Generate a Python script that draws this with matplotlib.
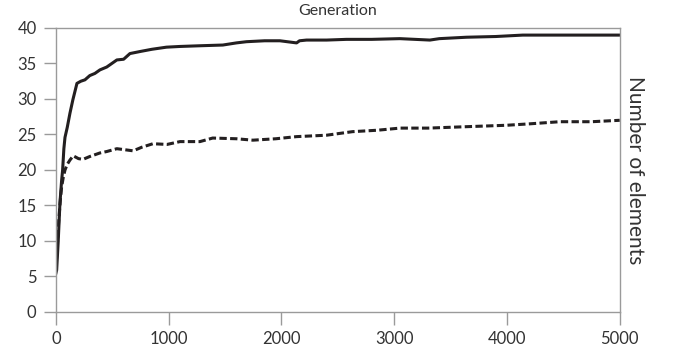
import matplotlib.pyplot as plt

# values
gen_solid = [0, 6, 20, 35, 50, 59, 70, 80, 100, 124, 150, 186, 220, 257, 300, 345, 390, 450,
             540, 600, 656, 750, 850, 980, 1100, 1280, 1480, 1600, 1690, 1850, 1986, 2134,
             2160, 2222, 2400, 2577, 2800, 3050, 3316, 3400, 3641, 3900, 4140, 4500, 4970, 5000]
val_solid = [5.5, 5.9, 10, 15.3, 18.5, 20, 23, 24.6, 26, 28, 29.9, 32.2, 32.5, 32.7, 33.3, 33.6,
             34.1, 34.5, 35.5, 35.6, 36.4, 36.7, 37.0, 37.3, 37.4, 37.5, 37.6, 37.9, 38.07, 38.2,
             38.2, 37.9, 38.2, 38.3, 38.3, 38.4, 38.4, 38.5, 38.3, 38.5, 38.7, 38.8, 39.0, 39.0,
             39.0, 39.0]

gen_dash = [0, 10, 25, 40, 50, 65, 80, 100, 124, 153, 200, 240, 300, 390, 450, 540, 685, 760,
            860, 985, 1100, 1277, 1390, 1600, 1746, 1950, 2134, 2400, 2630, 2850, 3050, 3300,
            3641, 3996, 4200, 4468, 4750, 5000]
val_dash = [6.0, 9, 13, 16, 17.6, 19, 20, 20.8, 21.4, 22, 21.6, 21.5, 21.9, 22.4, 22.6, 23,
            22.7, 23.2, 23.7, 23.6, 24.0, 24.0, 24.5, 24.4, 24.2, 24.4, 24.7, 24.9, 25.4, 25.6,
            25.9, 25.9, 26.1, 26.3, 26.5, 26.8, 26.8, 27.0]

xticks = [0, 1000, 2000, 3000, 4000, 5000]
yticks = [0, 5, 10, 15, 20, 25, 30, 35, 40]

plt.rcParams['font.family'] = ['Lato', 'DejaVu Sans']
ink = '#231f20'
grey = '#9a9a9a'
txt = '#333333'

fig = plt.figure(figsize=(6.76, 3.58), dpi=100)
ax = fig.add_axes([0.0828, 0.1285, 0.834, 0.7933])

ax.plot(gen_solid, val_solid, color=ink, lw=2.2, solid_joinstyle='round')
ax.plot(gen_dash, val_dash, color=ink, lw=2.2, linestyle=(0, (2.4, 1.1)))

ax.set_xlim(0, 5000)
ax.set_ylim(0, 40)
ax.set_xticks(xticks)
ax.set_yticks(yticks)
ax.set_xticklabels([str(t) for t in xticks])
ax.set_yticklabels([str(t) for t in yticks])

for s in ax.spines.values():
    s.set_color(grey)
    s.set_linewidth(1)
ax.tick_params(axis='both', colors=grey, labelcolor=txt, length=9, width=1,
               labelsize=12, direction='out')
ax.tick_params(axis='x', pad=5)
ax.tick_params(axis='y', pad=5)

ax.set_title("Generation", fontsize=11.5, color=txt, pad=9)
ax.yaxis.set_label_position('right')
ax.set_ylabel("Number of elements", fontsize=15, color=txt, rotation=-90,
              labelpad=18)

fig.savefig("out.png", dpi=100)
